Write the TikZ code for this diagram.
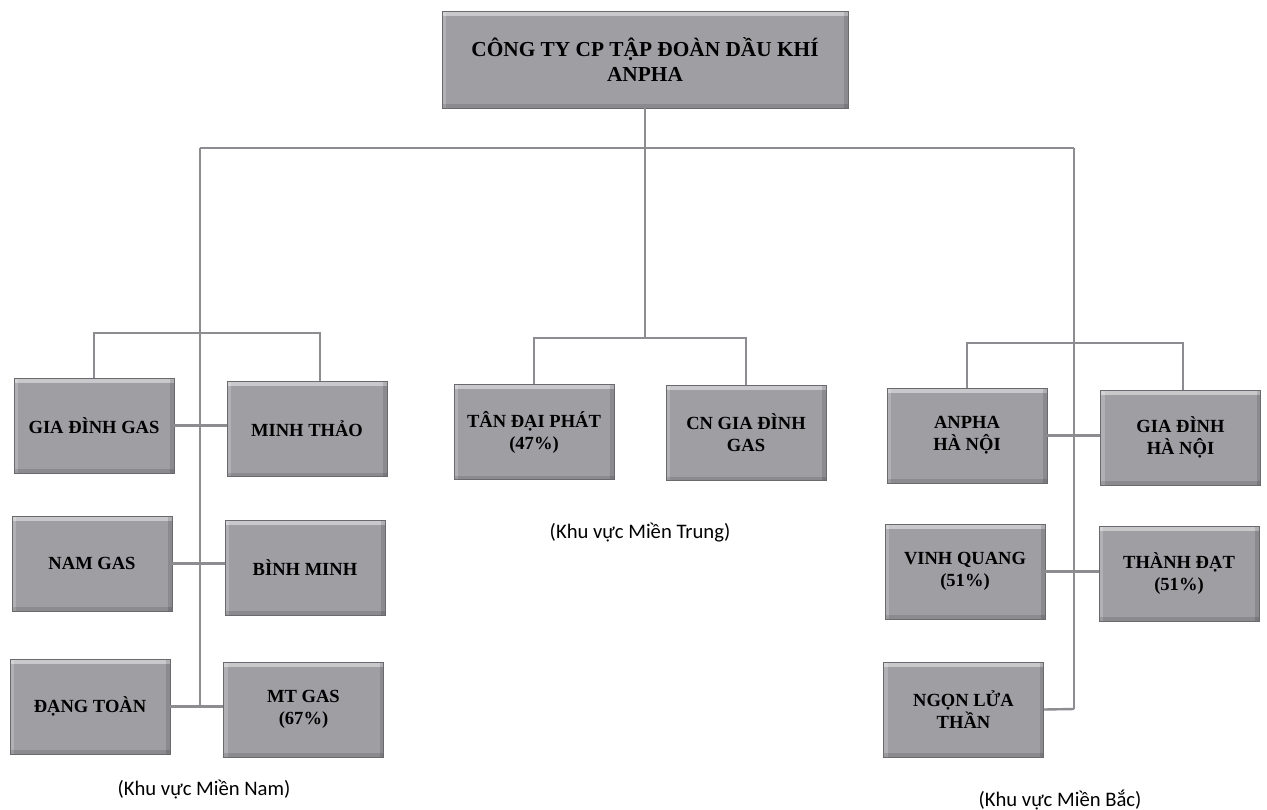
\documentclass[tikz,border=0pt]{standalone}
\usepackage{fontspec}
\setmainfont{Liberation Serif}
\newfontfamily\calib{Carlito}
\definecolor{boxfill}{RGB}{158,158,163}
\definecolor{boxedge}{RGB}{105,105,110}
\definecolor{linecol}{RGB}{140,140,145}
\tikzset{
  unitbox/.style={draw=boxedge, line width=0.6pt, fill=boxfill, align=center,
    minimum width=120pt, minimum height=71.25pt, inner sep=2pt,
    font=\bfseries\fontsize{13.9}{16.5}\selectfont,
    path picture={
      \fill[white,opacity=0.45] (path picture bounding box.north west) rectangle ([yshift=-3.5pt]path picture bounding box.north east);
      \fill[white,opacity=0.2] (path picture bounding box.north west) rectangle ([xshift=3pt]path picture bounding box.south west);
      \fill[black,opacity=0.12] ([yshift=3pt]path picture bounding box.south west) rectangle (path picture bounding box.south east);
      \fill[black,opacity=0.12] ([xshift=-3pt]path picture bounding box.north east) rectangle (path picture bounding box.south east);
    }},
  topbox/.style={unitbox, minimum width=304.5pt, minimum height=72.75pt,
    font=\bfseries\fontsize{16}{19}\selectfont},
  conn/.style={draw=linecol, line width=1.8pt},
  region/.style={font=\calib\fontsize{15.5}{18}\selectfont, inner sep=0pt}
}
\begin{document}
\begin{tikzpicture}[x=0.75pt,y=-0.75pt]
\useasboundingbox (0,0) rectangle (1267,810);
% boxes
\node[topbox] (top) at (645,59.5) {CÔNG TY CP TẬP ĐOÀN DẦU KHÍ\\ANPHA};
\node[unitbox] (gdgas) at (94,425.5) {GIA ĐÌNH GAS};
\node[unitbox] (minhthao) at (307,429) {MINH THẢO};
\node[unitbox] (namgas) at (92,563.5) {NAM GAS};
\node[unitbox] (binhminh) at (305,567.5) {BÌNH MINH};
\node[unitbox] (dangtoan) at (90,706.5) {ĐẠNG TOÀN};
\node[unitbox] (mtgas) at (303.5,709.5) {MT GAS\\(67\%)};
\node[unitbox] (tandaiphat) at (534,432) {TÂN ĐẠI PHÁT\\(47\%)};
\node[unitbox] (cngd) at (746,433) {CN GIA ĐÌNH\\GAS};
\node[unitbox] (anpha) at (967,435.5) {ANPHA\\HÀ NỘI};
\node[unitbox] (gdhn) at (1180.5,437.5) {GIA ĐÌNH\\HÀ NỘI};
\node[unitbox] (vinhquang) at (965,571.5) {VINH QUANG\\(51\%)};
\node[unitbox] (thanhdat) at (1179,573.5) {THÀNH ĐẠT\\(51\%)};
\node[unitbox] (ngonlua) at (963.5,709.5) {NGỌN LỬA\\THẦN};
% region labels
\node[region] (lnam) at (204,790) {(Khu vực Miền Nam)};
\node[region] (ltrung) at (640,533) {(Khu vực Miền Trung)};
\node[region] (lbac) at (1060,800) {(Khu vực Miền Bắc)};
% coordinates
\coordinate (busmid) at (top.south |- 0,148);
\coordinate (busL) at (200,148);
\coordinate (busR) at (1074,148);
\coordinate (endL) at (200,707);
\coordinate (endR) at (1074,709);
\coordinate (sLa) at (gdgas.north |- 0,333);
\coordinate (sLb) at (320,333);
\coordinate (sMa) at (tandaiphat.north |- 0,338);
\coordinate (sMb) at (cngd.north |- 0,338);
\coordinate (sMc) at (top.south |- 0,338);
\coordinate (sRa) at (anpha.north |- 0,343);
\coordinate (sRb) at (1183,343);
% connectors
\begin{scope}[on background layer/.style={}]
\draw[conn] (top.south) -- (busmid);
\draw[conn] (busL) -- (busR);
\draw[conn] (busL) -- (endL);
\draw[conn] (busR) -- (endR);
\draw[conn] (busmid) -- (sMc);
% left group
\draw[conn] (gdgas.north) -- (sLa) -- (sLb) -- (sLb |- minhthao.north);
\draw[conn] (gdgas.east) -- (gdgas.east -| minhthao.west);
\draw[conn] (namgas.east) -- (namgas.east -| binhminh.west);
\draw[conn] (dangtoan.east) -- (dangtoan.east -| mtgas.west);
% middle group
\draw[conn] (tandaiphat.north) -- (sMa) -- (sMb) -- (cngd.north);
% right group
\draw[conn] (anpha.north) -- (sRa) -- (sRb) -- (sRb |- gdhn.north);
\draw[conn] (anpha.east) -- (anpha.east -| gdhn.west);
\draw[conn] (vinhquang.east) -- (vinhquang.east -| thanhdat.west);
\draw[conn] (ngonlua.east) -- (endR);
\end{scope}
\end{tikzpicture}
\end{document}
